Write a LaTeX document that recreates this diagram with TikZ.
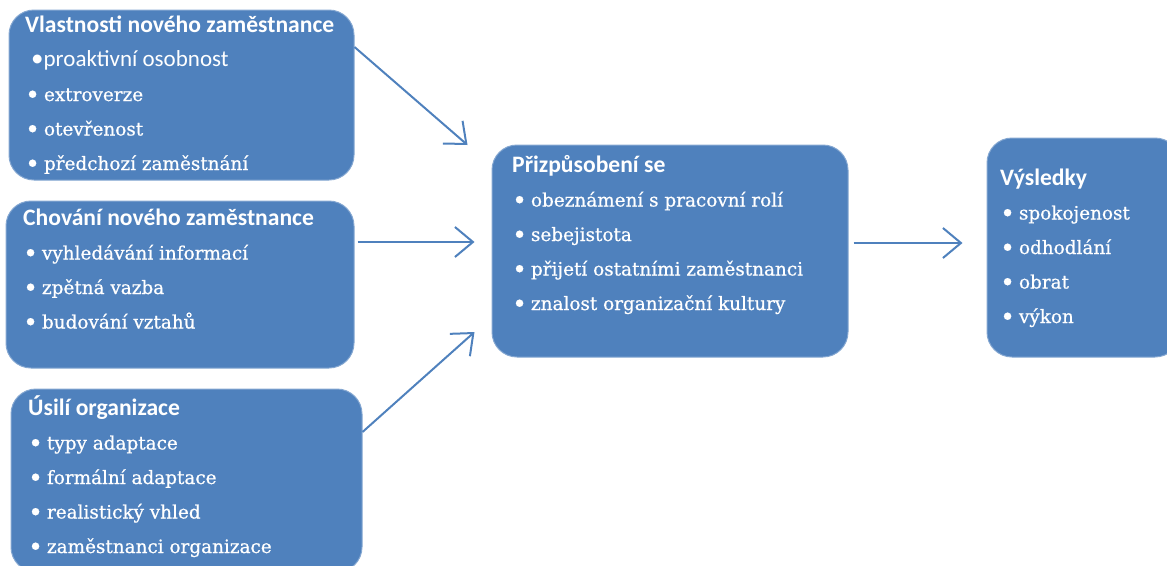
\documentclass[tikz,border=0pt]{standalone}
\usepackage{fontspec}
\usetikzlibrary{arrows.meta,calc}
\newfontfamily\titlefont{Carlito}
\newfontfamily\odrazka{DejaVu Serif}[UprightFeatures={FakeBold=0.7}]
\definecolor{modra}{RGB}{79,129,189}
\newcommand{\tecka}{\raisebox{-2.5pt}{\fontsize{25}{34.5}\selectfont•}}
\newcommand{\nadpis}[1]{{\fontsize{23.6}{34.5}\titlefont\bfseries #1\par}}
\newcommand{\polozka}[1]{{\fontsize{18.4}{34.5}\odrazka\tecka\hspace{0.22em}#1\par}}
\tikzset{
  box/.style={draw=modra!70!white,line width=1pt,fill=modra,rounded corners=25pt},
  boxtext/.style={anchor=base west,inner sep=0pt,text=white},
  sipka/.style={draw=modra,line width=2pt,-{Straight Barb[length=18pt,width=30pt]}}
}

\begin{document}
\begin{tikzpicture}[x=1pt,y=-1pt]
    \useasboundingbox (0,0) rectangle (1167,565);
    % boxes
    \node[box,minimum width=345,minimum height=170] (vlastnosti) at (181.5,95) {};
    \node[box,minimum width=348,minimum height=167] (chovani) at (180,284.5) {};
    \node[box,minimum width=351,minimum height=183] (usili) at (186.5,480.5) {};
    \node[box,minimum width=356,minimum height=212] (prizpusobeni) at (670,251) {};
    \node[box,minimum width=193,minimum height=219] (vysledky) at (1083.5,247.5) {};
    % texts
    \node[boxtext] (vlastnostitext) at (25,32) {\parbox[t]{330pt}{%
        \nadpis{Vlastnosti nového zaměstnance}
        {\fontsize{23}{34.5}\titlefont\hspace*{6pt}{\fontsize{25}{34.5}\selectfont•}proaktivní osobnost\par}
        \polozka{extroverze}
        \polozka{otevřenost}
        \polozka{předchozí zaměstnání}}};
    \node[boxtext] (chovanitext) at (23,225) {\parbox[t]{330pt}{%
        \nadpis{Chování nového zaměstnance}
        \polozka{vyhledávání informací}
        \polozka{zpětná vazba}
        \polozka{budování vztahů}}};
    \node[boxtext] (usilitext) at (28,415) {\parbox[t]{330pt}{%
        \nadpis{Úsilí organizace}
        \polozka{typy adaptace}
        \polozka{formální adaptace}
        \polozka{realistický vhled}
        \polozka{zaměstnanci organizace}}};
    \node[boxtext] (prizpusobenitext) at (512,172) {\parbox[t]{330pt}{%
        \nadpis{Přizpůsobení se}
        \polozka{obeznámení s pracovní rolí}
        \polozka{sebejistota}
        \polozka{přijetí ostatními zaměstnanci}
        \polozka{znalost organizační kultury}}};
    \node[boxtext] (vysledkytext) at (1000,185) {\parbox[t]{160pt}{%
        \nadpis{Výsledky}
        \polozka{spokojenost}
        \polozka{odhodlání}
        \polozka{obrat}
        \polozka{výkon}}};
    % arrows
    \draw[sipka] ($(vlastnosti.east)+(0,-48)$) -- ($(prizpusobeni.west)+(-24,-106)$);
    \draw[sipka] ($(chovani.east)+(3,-42.5)$) -- ($(prizpusobeni.west)+(-17,-9)$);
    \draw[sipka] ($(usili.east)+(0,-48.5)$) -- ($(prizpusobeni.west)+(-17,81)$);
    \draw[sipka] ($(prizpusobeni.east)+(5,-8)$) -- ($(vysledky.west)+(-24,-4.5)$);
\end{tikzpicture}
\end{document}
